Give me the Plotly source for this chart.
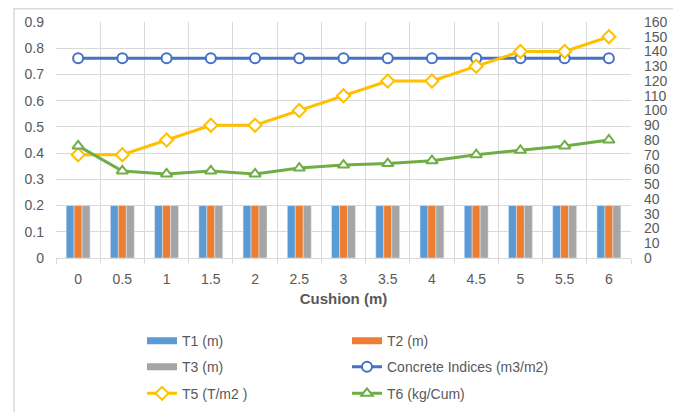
import plotly.graph_objects as go

cushion = ["0", "0.5", "1", "1.5", "2", "2.5", "3", "3.5", "4", "4.5", "5", "5.5", "6"]
t1 = [0.2] * 13
t2 = [0.2] * 13
t3 = [0.2] * 13
concrete = [0.762] * 13
t5 = [70, 70, 80, 90, 90, 100, 110, 120, 120, 130, 140, 140, 150]
t6 = [76, 59, 57, 59, 57, 61, 63, 64, 66, 70, 73, 76, 80]

FONT = "Arial, Liberation Sans, sans-serif"
GREY = "#595959"
GRID = "#D9D9D9"
C1, C2, C3 = "#5B9BD5", "#ED7D31", "#A5A5A5"

fig = go.Figure()
for name, vals, col, leg in [("T1 (m)", t1, C1, "legend"), ("T2 (m)", t2, C2, "legend"),
                              ("T3 (m)", t3, C3, "legend2")]:
    fig.add_trace(go.Bar(x=cushion, y=vals, name=name, marker_color=col, legendgroup=name,
                         showlegend=False, legend=leg))
    # legend key drawn as a wide flat bar, like the reference
    fig.add_trace(go.Scatter(x=[None], y=[None], name=name, mode="lines", legendgroup=name,
                             line=dict(color=col, width=7), legend=leg, hoverinfo="skip"))

fig.add_trace(go.Scatter(x=cushion, y=concrete, name="Concrete Indices (m3/m2)", mode="lines+markers",
                         line=dict(color="#4472C4", width=3),
                         marker=dict(symbol="circle", size=10, color="white",
                                     line=dict(color="#4472C4", width=2)),
                         legend="legend2"))
fig.add_trace(go.Scatter(x=cushion, y=t5, name="T5 (T/m2 )", mode="lines+markers", yaxis="y2",
                         line=dict(color="#FFC000", width=3),
                         marker=dict(symbol="diamond", size=10, color="white",
                                     line=dict(color="#FFC000", width=2)),
                         legend="legend3"))
fig.add_trace(go.Scatter(x=cushion, y=t6, name="T6 (kg/Cum)", mode="lines+markers", yaxis="y2",
                         line=dict(color="#70AD47", width=3),
                         marker=dict(symbol="triangle-up", size=10, color="white",
                                     line=dict(color="#70AD47", width=2)),
                         legend="legend3"))

# page body has an 8px default margin; margins compensate so the plot lands where the reference has it
PL, PT, PW, PH = 56 - 8, 22.3 - 8, 575, 236

def xpaper(px):
    return (px - 56) / PW

def ypaper(py):
    return (258.3 - py) / PH

leg_common = dict(orientation="h", x=xpaper(142), xanchor="left", yanchor="middle",
                  entrywidth=160, font=dict(family=FONT, size=14, color=GREY),
                  bgcolor="rgba(0,0,0,0)", tracegroupgap=0)

fig.update_layout(
    width=681, height=412,
    margin=dict(l=PL, r=681 - PL - PW, t=PT, b=412 - PT - PH, autoexpand=False),
    paper_bgcolor="white", plot_bgcolor="white",
    barmode="group", bargap=0.46, bargroupgap=0,
    font=dict(family=FONT, size=14, color=GREY),
    showlegend=True,
    legend=dict(**leg_common, y=ypaper(341.5)),
    legend2=dict(**leg_common, y=ypaper(367.5)),
    legend3=dict(**leg_common, y=ypaper(394)),
    xaxis=dict(type="category", range=[-0.5, len(cushion) - 0.5], tickson="boundaries",
               showgrid=True, gridcolor=GRID, gridwidth=1,
               ticks="outside", ticklen=5, tickcolor=GRID, showline=True, linecolor=GRID,
               tickfont=dict(family=FONT, size=14, color=GREY), ticklabelstandoff=8,
               title=dict(text="<b>Cushion (m)</b>", font=dict(family=FONT, size=15, color=GREY), standoff=7)),
    yaxis=dict(range=[0, 0.9], dtick=0.1, showgrid=True, gridcolor=GRID, gridwidth=1,
               zeroline=False, tickfont=dict(family=FONT, size=14, color=GREY), ticklabelstandoff=11),
    yaxis2=dict(range=[0, 160], dtick=10, overlaying="y", side="right", showgrid=False,
                zeroline=False, tickfont=dict(family=FONT, size=14, color=GREY), ticklabelstandoff=12),
    shapes=[dict(type="rect", xref="paper", yref="paper",
                 x0=xpaper(14), x1=xpaper(676), y0=ypaper(430), y1=ypaper(9),
                 line=dict(color=GRID, width=1.5), fillcolor="rgba(0,0,0,0)", layer="below")],
)

fig.write_html("out.html")
